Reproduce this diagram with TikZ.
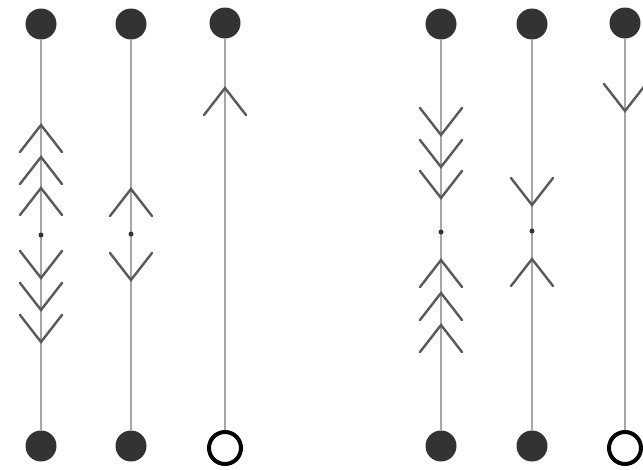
\documentclass[tikz,border=0pt]{standalone}
\begin{document}
\begin{tikzpicture}[x=1pt,y=-1pt,
  wire/.style={draw=black!35, line width=2},
  chevron/.style={draw=black!65, line width=2.4, line cap=round, line join=miter},
  bigdot/.style={circle, fill=black!80, minimum size=31, inner sep=0},
  opendot/.style={circle, draw=black, line width=4, fill=white, minimum size=32, inner sep=0},
  middot/.style={circle, fill=black!80, minimum size=5, inner sep=0},
  upchev/.pic={\draw[chevron] (-21,27) -- (0,0) -- (21,27);},
  downchev/.pic={\draw[chevron] (-21,-27) -- (0,0) -- (21,-27);}
]
\useasboundingbox (0,0) rectangle (643,469);
% nodes
\node[bigdot] (t1) at (41,24) {};
\node[bigdot] (b1) at (41,446) {};
\node[bigdot] (t2) at (131,24) {};
\node[bigdot] (b2) at (131,446) {};
\node[bigdot] (t3) at (225,23) {};
\node[opendot] (b3) at (225,448) {};
\node[bigdot] (t4) at (441,24) {};
\node[bigdot] (b4) at (441,446) {};
\node[bigdot] (t5) at (532,24) {};
\node[bigdot] (b5) at (532,446) {};
\node[bigdot] (t6) at (625,23) {};
\node[opendot] (b6) at (625,448) {};
% connectors
\draw[wire] (t1) -- (b1);
\draw[wire] (t2) -- (b2);
\draw[wire] (t3) -- (b3);
\draw[wire] (t4) -- (b4);
\draw[wire] (t5) -- (b5);
\draw[wire] (t6) -- (b6);
% middle points
\node[middot] (m1) at (41,235) {};
\node[middot] (m2) at (131,234) {};
\node[middot] (m4) at (441,232) {};
\node[middot] (m5) at (532,231) {};
% column 1
\pic at (41,125) {upchev};
\pic at (41,157) {upchev};
\pic at (41,188) {upchev};
\pic at (41,278) {downchev};
\pic at (41,310) {downchev};
\pic at (41,342) {downchev};
% column 2
\pic at (131,189) {upchev};
\pic at (131,280) {downchev};
% column 3
\pic at (225,88) {upchev};
% column 4
\pic at (441,135) {downchev};
\pic at (441,167) {downchev};
\pic at (441,198) {downchev};
\pic at (441,260) {upchev};
\pic at (441,293) {upchev};
\pic at (441,325) {upchev};
% column 5
\pic at (532,205) {downchev};
\pic at (532,259) {upchev};
% column 6
\pic at (625,111) {downchev};
\end{tikzpicture}
\end{document}
